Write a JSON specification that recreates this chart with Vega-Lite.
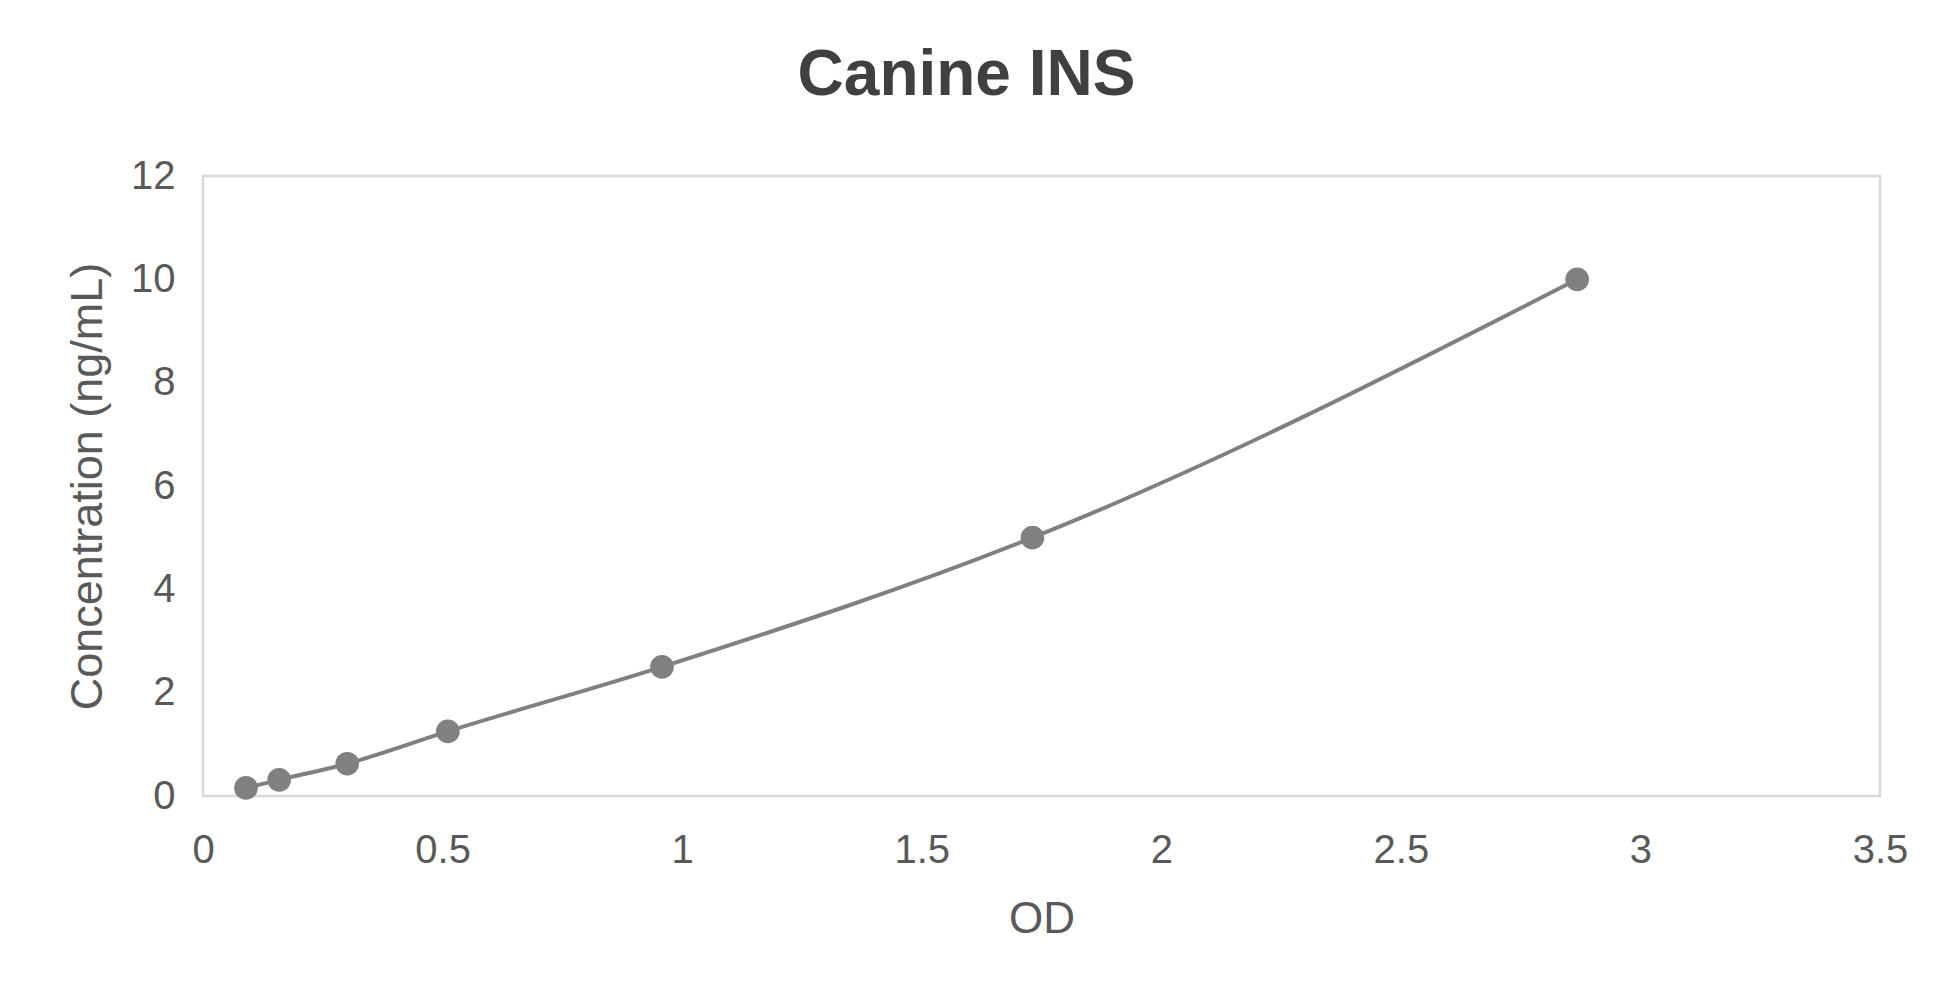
{
  "$schema": "https://vega.github.io/schema/vega-lite/v6.json",
  "width": 1677,
  "height": 620,
  "autosize": {"type": "none"},
  "padding": {"left": 203, "top": 176, "right": 54, "bottom": 208},
  "background": "white",
  "title": {
    "text": "Canine INS",
    "font": "Liberation Sans",
    "fontSize": 64,
    "fontWeight": "bold",
    "color": "#404040",
    "anchor": "middle",
    "baseline": "alphabetic",
    "offset": -3,
    "dx": -75
  },
  "data": {
    "values": [
      {"OD": 0.0897, "conc": 0.156},
      {"OD": 0.159, "conc": 0.3125},
      {"OD": 0.301, "conc": 0.625},
      {"OD": 0.511, "conc": 1.25},
      {"OD": 0.958, "conc": 2.5},
      {"OD": 1.731, "conc": 5},
      {"OD": 2.868, "conc": 10}
    ]
  },
  "encoding": {
    "x": {
      "field": "OD",
      "type": "quantitative",
      "scale": {"domain": [0, 3.5], "nice": false, "zero": true},
      "axis": {
        "title": "OD",
        "values": [0, 0.5, 1, 1.5, 2, 2.5, 3, 3.5],
        "format": "~g",
        "grid": false,
        "ticks": false,
        "domain": false,
        "labelFont": "Liberation Sans",
        "labelFontSize": 40,
        "labelColor": "#595959",
        "labelPadding": 34,
        "labelFlush": false,
        "labelOverlap": false,
        "titleFont": "Liberation Sans",
        "titleFontSize": 44,
        "titleFontWeight": "normal",
        "titleColor": "#595959",
        "titlePadding": 27
      }
    },
    "y": {
      "field": "conc",
      "type": "quantitative",
      "scale": {"domain": [0, 12], "nice": false},
      "axis": {
        "title": "Concentration (ng/mL)",
        "values": [0, 2, 4, 6, 8, 10, 12],
        "grid": false,
        "ticks": false,
        "domain": false,
        "labelFont": "Liberation Sans",
        "labelFontSize": 40,
        "labelColor": "#595959",
        "labelPadding": 28,
        "labelFlush": false,
        "labelOverlap": false,
        "titleFont": "Liberation Sans",
        "titleFontSize": 45,
        "titleFontWeight": "normal",
        "titleColor": "#595959",
        "titlePadding": 20
      }
    }
  },
  "layer": [
    {
      "mark": {"type": "line", "interpolate": "monotone", "color": "#808080", "strokeWidth": 4}
    },
    {
      "mark": {"type": "circle", "color": "#808080", "opacity": 1, "size": 560}
    }
  ],
  "config": {
    "view": {"stroke": "#d9d9d9", "strokeWidth": 2.5}
  }
}
